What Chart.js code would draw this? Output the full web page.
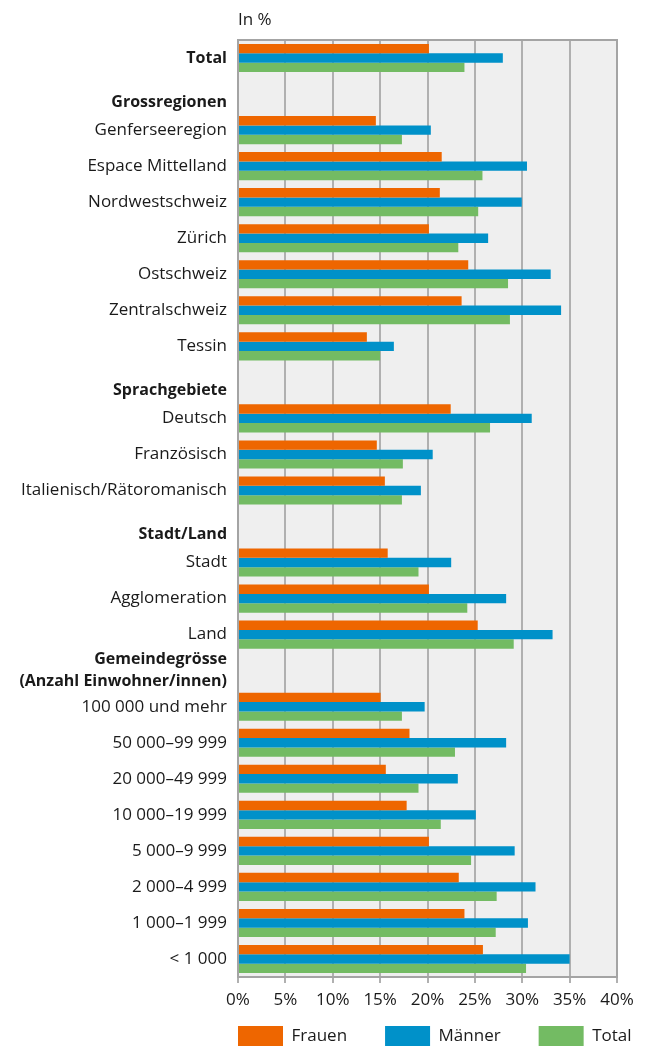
<!DOCTYPE html>
<html>
<head>
<meta charset="utf-8">
<script src="https://cdn.jsdelivr.net/npm/chart.js@4/dist/chart.umd.min.js"></script>
<style>
  html, body { margin: 0; padding: 0; background: #fff; }
  #wrap { width: 648px; height: 1046px; }
</style>
</head>
<body>
<div id="wrap"><canvas id="chart" width="648" height="1046"></canvas></div>
<script>
'use strict';

/* Data */
const categories = [
  'Total', 'Grossregionen', 'Genferseeregion', 'Espace Mittelland', 'Nordwestschweiz',
  'Zürich', 'Ostschweiz', 'Zentralschweiz', 'Tessin', 'Sprachgebiete', 'Deutsch',
  'Französisch', 'Italienisch/Rätoromanisch', 'Stadt/Land', 'Stadt', 'Agglomeration', 'Land',
  'Gemeindegrösse\n(Anzahl Einwohner/innen)', '100 000 und mehr', '50 000–99 999',
  '20 000–49 999', '10 000–19 999', '5 000–9 999', '2 000–4 999', '1 000–1 999', '< 1 000'
];
const boldLabels = ['Total', 'Grossregionen', 'Sprachgebiete', 'Stadt/Land',
  'Gemeindegrösse\n(Anzahl Einwohner/innen)'];
const headerLabels = ['Grossregionen', 'Sprachgebiete', 'Stadt/Land'];

const frauen = [20.15, null, 14.55, 21.5, 21.3, 20.15, 24.3, 23.6, 13.6, null, 22.45, 14.65, 15.5,
  null, 15.8, 20.15, 25.3, null, 15.05, 18.1, 15.6, 17.8, 20.15, 23.3, 23.9, 25.85];
const maenner = [27.95, null, 20.35, 30.5, 29.95, 26.4, 33.0, 34.1, 16.45, null, 31.0, 20.55, 19.3,
  null, 22.5, 28.3, 33.2, null, 19.7, 28.3, 23.2, 25.1, 29.2, 31.4, 30.6, 35.0];
const total = [23.9, null, 17.3, 25.8, 25.35, 23.25, 28.5, 28.7, 15.0, null, 26.6, 17.4, 17.3,
  null, 19.05, 24.2, 29.1, null, 17.3, 22.9, 19.05, 21.4, 24.6, 27.3, 27.2, 30.4];

const xTicks = [0, 5, 10, 15, 20, 25, 30, 35, 40];

/* Styles */
const FONT = '"Open Sans", "DejaVu Sans", sans-serif';
const FONT_SIZE = 17;
const BOLD_SIZE = 16;
const COLORS = { frauen: '#ee6600', maenner: '#0091c9', total: '#73bb63' };
const GRID = '#b0b0b0';
const PLOT_BG = '#efefef';
const LEGEND_PAD = 38;
const LEGEND_BOX_H = 20;

/* Plot background, frame and unit label */
const plotFrame = {
  id: 'plotFrame',
  afterLayout(chart) {
    // line the legend up with the plot's left edge and the bottom of the canvas
    const lg = chart.legend;
    if (!lg || !lg.lineWidths) return;
    const dx = chart.chartArea.left - (lg.right - lg.lineWidths[0]);
    lg.left += dx;
    lg.right += dx;
    lg.top = chart.height - LEGEND_BOX_H - LEGEND_PAD;
    lg.bottom = chart.height;
  },
  beforeDraw(chart) {
    const { ctx, chartArea: a } = chart;
    ctx.save();
    ctx.fillStyle = PLOT_BG;
    ctx.fillRect(a.left, a.top, a.right - a.left, a.bottom - a.top);
    ctx.restore();
  },
  afterDraw(chart) {
    const { ctx, chartArea: a } = chart;
    ctx.save();
    ctx.strokeStyle = '#a4a4a4';
    ctx.lineWidth = 2;
    ctx.strokeRect(a.left, a.top, a.right - a.left, a.bottom - a.top);
    ctx.fillStyle = '#1a1a1a';
    ctx.font = FONT_SIZE + 'px ' + FONT;
    ctx.textAlign = 'left';
    ctx.textBaseline = 'middle';
    ctx.fillText('In %', a.left, 20);
    ctx.restore();
  }
};

function initChart() {
  const ctx = document.getElementById('chart').getContext('2d');
  new Chart(ctx, {
    type: 'bar',
    data: {
      labels: categories,
      datasets: [
        { label: 'Frauen', data: frauen, backgroundColor: COLORS.frauen },
        { label: 'Männer', data: maenner, backgroundColor: COLORS.maenner },
        { label: 'Total', data: total, backgroundColor: COLORS.total }
      ]
    },
    options: {
      indexAxis: 'y',
      responsive: false,
      animation: false,
      layout: { padding: { top: 40, right: 31, left: 0, bottom: 0 } },
      datasets: {
        bar: { categoryPercentage: 0.78, barPercentage: 1.0, borderWidth: 0 }
      },
      scales: {
        x: {
          min: 0,
          max: 40,
          afterBuildTicks(scale) {
            scale.ticks = xTicks.map(v => ({ value: v }));
          },
          afterFit(scale) { scale.height = 36; },
          grid: { color: GRID, lineWidth: 2, tickLength: 6 },
          border: { color: '#a4a4a4', width: 2 },
          ticks: {
            color: '#1a1a1a',
            font: { family: FONT, size: FONT_SIZE },
            padding: 7,
            callback: v => v + '%'
          }
        },
        y: {
          grid: { display: false },
          border: { color: '#a4a4a4', width: 2 },
          afterFit(scale) { scale.width = 238; },
          ticks: {
            color: '#1a1a1a',
            padding: 3,
            autoSkip: false,
            font(context) {
              const label = categories[context.index];
              const bold = boldLabels.includes(label);
              return { family: FONT, size: bold ? BOLD_SIZE : FONT_SIZE,
                weight: bold ? 'bold' : 'normal',
                lineHeight: headerLabels.includes(label) ? 1.0 : 1.375 };
            },
            callback(value) {
              const label = this.getLabelForValue(value);
              if (headerLabels.includes(label)) return ['', label];
              if (label.includes('\n')) return label.split('\n');
              return label;
            }
          }
        }
      },
      plugins: {
        legend: {
          position: 'bottom',
          align: 'end',
          maxHeight: 33,
          labels: {
            boxWidth: 45,
            boxHeight: LEGEND_BOX_H,
            padding: LEGEND_PAD,
            color: '#1a1a1a',
            font: { family: FONT, size: FONT_SIZE }
          }
        },
        tooltip: { enabled: false }
      }
    },
    plugins: [plotFrame]
  });
}

document.addEventListener('DOMContentLoaded', initChart);
</script>
</body>
</html>
